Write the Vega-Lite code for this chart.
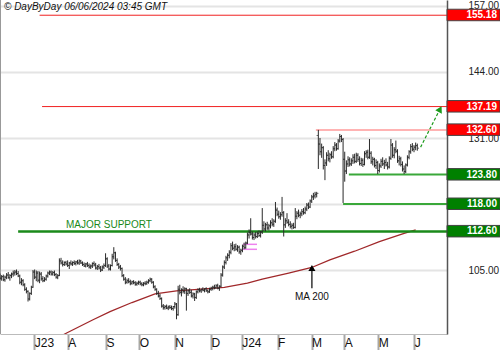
{
"$schema": "https://vega.github.io/schema/vega-lite/v6.json",
"width": 447, "height": 334,
"autosize": {"type": "none"},
"padding": {"left": 0, "top": 0, "right": 53, "bottom": 16},
"background": "white",
"config": {"view": {"stroke": null}, "font": "Liberation Sans"},
"datasets": {
"px": [
{"t":0,"o":103.8,"h":104.3,"l":103.1,"c":103.4},{"t":1,"o":103.4,"h":104.0,"l":102.9,"c":103.7},{"t":2,"o":103.7,"h":104.1,"l":102.8,"c":103.1},{"t":3,"o":103.1,"h":103.9,"l":102.7,"c":103.6},{"t":4,"o":103.6,"h":104.4,"l":103.2,"c":104.0},{"t":5,"o":104.0,"h":104.6,"l":103.3,"c":103.5},{"t":6,"o":103.5,"h":104.2,"l":102.9,"c":103.9},{"t":7,"o":103.9,"h":104.5,"l":103.4,"c":104.2},{"t":8,"o":104.2,"h":104.9,"l":103.7,"c":104.4},{"t":9,"o":104.4,"h":105.0,"l":103.9,"c":104.6},
{"t":10,"o":104.6,"h":105.1,"l":104.0,"c":104.3},{"t":11,"o":104.3,"h":104.8,"l":103.6,"c":103.8},{"t":12,"o":103.8,"h":104.1,"l":102.2,"c":102.6},{"t":13,"o":102.6,"h":103.4,"l":102.0,"c":102.9},{"t":14,"o":102.9,"h":103.2,"l":101.8,"c":102.1},{"t":15,"o":102.1,"h":102.4,"l":100.9,"c":101.2},{"t":16,"o":101.2,"h":101.6,"l":100.4,"c":100.8},{"t":17,"o":100.8,"h":101.0,"l":98.8,"c":99.3},{"t":18,"o":99.3,"h":100.6,"l":99.0,"c":100.4},{"t":19,"o":100.4,"h":101.9,"l":100.1,"c":101.6},
{"t":20,"o":101.6,"h":105.0,"l":101.5,"c":104.6},{"t":21,"o":104.6,"h":105.1,"l":103.2,"c":103.6},{"t":22,"o":103.6,"h":104.9,"l":102.8,"c":104.4},{"t":23,"o":104.4,"h":104.8,"l":102.6,"c":103.0},{"t":24,"o":103.0,"h":104.7,"l":102.4,"c":104.2},{"t":25,"o":104.2,"h":104.6,"l":102.9,"c":103.3},{"t":26,"o":103.3,"h":103.8,"l":102.6,"c":102.9},{"t":27,"o":102.9,"h":103.6,"l":102.7,"c":103.2},{"t":28,"o":103.2,"h":104.1,"l":102.9,"c":103.8},{"t":29,"o":103.8,"h":104.7,"l":103.5,"c":104.4},
{"t":30,"o":104.4,"h":104.9,"l":104.0,"c":104.6},{"t":31,"o":104.6,"h":104.9,"l":103.9,"c":104.2},{"t":32,"o":104.2,"h":104.8,"l":103.9,"c":104.5},{"t":33,"o":104.5,"h":104.9,"l":103.8,"c":104.1},{"t":34,"o":104.1,"h":104.4,"l":103.3,"c":103.6},{"t":35,"o":103.6,"h":104.2,"l":103.2,"c":103.9},{"t":36,"o":103.9,"h":107.3,"l":103.8,"c":106.8},{"t":37,"o":106.8,"h":107.4,"l":106.1,"c":106.4},{"t":38,"o":106.4,"h":106.9,"l":105.7,"c":106.1},{"t":39,"o":106.1,"h":106.7,"l":105.8,"c":106.5},
{"t":40,"o":106.5,"h":106.8,"l":105.9,"c":106.2},{"t":41,"o":106.2,"h":106.9,"l":105.6,"c":105.9},{"t":42,"o":105.9,"h":106.6,"l":105.2,"c":106.4},{"t":43,"o":106.4,"h":106.9,"l":105.9,"c":106.2},{"t":44,"o":106.2,"h":106.7,"l":105.8,"c":106.5},{"t":45,"o":106.5,"h":106.9,"l":106.0,"c":106.3},{"t":46,"o":106.3,"h":106.8,"l":105.9,"c":106.6},{"t":47,"o":106.6,"h":107.0,"l":106.1,"c":106.4},{"t":48,"o":106.4,"h":107.1,"l":106.0,"c":106.8},{"t":49,"o":106.8,"h":107.0,"l":106.2,"c":106.4},
{"t":50,"o":106.4,"h":106.7,"l":105.8,"c":106.1},{"t":51,"o":106.1,"h":106.5,"l":105.6,"c":105.8},{"t":52,"o":105.8,"h":106.4,"l":105.5,"c":106.2},{"t":53,"o":106.2,"h":106.6,"l":105.6,"c":105.9},{"t":54,"o":105.9,"h":106.3,"l":105.3,"c":105.6},{"t":55,"o":105.6,"h":106.1,"l":105.2,"c":105.8},{"t":56,"o":105.8,"h":106.5,"l":105.4,"c":106.3},{"t":57,"o":106.3,"h":106.7,"l":105.7,"c":106.0},{"t":58,"o":106.0,"h":106.4,"l":105.1,"c":105.4},{"t":59,"o":105.4,"h":106.0,"l":105.0,"c":105.7},
{"t":60,"o":105.7,"h":106.2,"l":105.1,"c":105.4},{"t":61,"o":105.4,"h":105.8,"l":104.6,"c":105.0},{"t":62,"o":105.0,"h":105.9,"l":104.8,"c":105.6},{"t":63,"o":105.6,"h":106.3,"l":105.2,"c":105.9},{"t":64,"o":105.9,"h":108.3,"l":105.6,"c":107.2},{"t":65,"o":107.2,"h":107.5,"l":105.4,"c":105.8},{"t":66,"o":105.8,"h":106.2,"l":104.9,"c":105.2},{"t":67,"o":105.2,"h":106.1,"l":104.9,"c":105.9},{"t":68,"o":105.9,"h":108.2,"l":105.7,"c":107.6},{"t":69,"o":107.6,"h":109.5,"l":107.1,"c":108.4},
{"t":70,"o":108.4,"h":108.6,"l":106.6,"c":106.9},{"t":71,"o":106.9,"h":107.3,"l":105.8,"c":106.1},{"t":72,"o":106.1,"h":106.4,"l":105.2,"c":105.6},{"t":73,"o":105.6,"h":106.0,"l":104.9,"c":105.3},{"t":74,"o":105.3,"h":105.5,"l":103.6,"c":103.9},{"t":75,"o":103.9,"h":104.2,"l":102.9,"c":103.2},{"t":76,"o":103.2,"h":103.6,"l":102.2,"c":102.6},{"t":77,"o":102.6,"h":103.3,"l":102.3,"c":102.9},{"t":78,"o":102.9,"h":103.4,"l":102.4,"c":102.7},{"t":79,"o":102.7,"h":103.1,"l":102.0,"c":102.4},
{"t":80,"o":102.4,"h":102.9,"l":102.1,"c":102.7},{"t":81,"o":102.7,"h":103.0,"l":102.2,"c":102.5},{"t":82,"o":102.5,"h":102.8,"l":101.9,"c":102.2},{"t":83,"o":102.2,"h":102.7,"l":101.9,"c":102.4},{"t":84,"o":102.4,"h":102.9,"l":102.1,"c":102.6},{"t":85,"o":102.6,"h":102.9,"l":102.0,"c":102.3},{"t":86,"o":102.3,"h":102.6,"l":101.8,"c":102.1},{"t":87,"o":102.1,"h":102.6,"l":101.8,"c":102.4},{"t":88,"o":102.4,"h":102.8,"l":102.0,"c":102.3},{"t":89,"o":102.3,"h":102.9,"l":102.1,"c":102.6},
{"t":90,"o":102.6,"h":103.2,"l":102.3,"c":102.9},{"t":91,"o":102.9,"h":103.5,"l":102.6,"c":103.2},{"t":92,"o":103.2,"h":103.4,"l":102.3,"c":102.6},{"t":93,"o":102.6,"h":102.8,"l":101.4,"c":101.7},{"t":94,"o":101.7,"h":102.0,"l":100.9,"c":101.2},{"t":95,"o":101.2,"h":101.4,"l":100.1,"c":100.4},{"t":96,"o":100.4,"h":100.9,"l":99.6,"c":99.9},{"t":97,"o":99.9,"h":100.3,"l":99.1,"c":99.4},{"t":98,"o":99.4,"h":99.6,"l":97.6,"c":97.9},{"t":99,"o":97.9,"h":98.3,"l":97.2,"c":97.6},
{"t":100,"o":97.6,"h":98.1,"l":97.2,"c":97.8},{"t":101,"o":97.8,"h":98.2,"l":97.3,"c":97.5},{"t":102,"o":97.5,"h":98.0,"l":97.1,"c":97.7},{"t":103,"o":97.7,"h":98.1,"l":97.3,"c":97.6},{"t":104,"o":97.6,"h":98.0,"l":97.1,"c":97.4},{"t":105,"o":97.4,"h":97.9,"l":97.0,"c":97.8},{"t":106,"o":97.8,"h":98.7,"l":97.4,"c":98.3},{"t":107,"o":98.3,"h":98.5,"l":95.3,"c":96.2},{"t":108,"o":96.2,"h":101.9,"l":96.0,"c":101.2},{"t":109,"o":101.2,"h":102.1,"l":100.2,"c":100.6},
{"t":110,"o":100.6,"h":101.4,"l":99.8,"c":101.1},{"t":111,"o":101.1,"h":101.8,"l":100.4,"c":100.8},{"t":112,"o":100.8,"h":101.6,"l":100.3,"c":101.3},{"t":113,"o":101.3,"h":101.5,"l":97.0,"c":100.4},{"t":114,"o":100.4,"h":101.2,"l":99.9,"c":100.9},{"t":115,"o":100.9,"h":101.4,"l":100.3,"c":100.6},{"t":116,"o":100.6,"h":101.1,"l":99.6,"c":99.9},{"t":117,"o":99.9,"h":100.6,"l":99.4,"c":100.3},{"t":118,"o":100.3,"h":100.5,"l":98.9,"c":99.6},{"t":119,"o":99.6,"h":101.0,"l":99.3,"c":100.7},
{"t":120,"o":100.7,"h":101.4,"l":100.4,"c":101.1},{"t":121,"o":101.1,"h":101.5,"l":100.6,"c":100.9},{"t":122,"o":100.9,"h":101.3,"l":100.5,"c":101.2},{"t":123,"o":101.2,"h":101.6,"l":100.8,"c":101.0},{"t":124,"o":101.0,"h":101.4,"l":100.6,"c":101.3},{"t":125,"o":101.3,"h":101.6,"l":100.7,"c":100.9},{"t":126,"o":100.9,"h":101.2,"l":100.4,"c":100.7},{"t":127,"o":100.7,"h":101.5,"l":100.5,"c":101.2},{"t":128,"o":101.2,"h":101.7,"l":100.9,"c":101.4},{"t":129,"o":101.4,"h":101.9,"l":101.0,"c":101.6},
{"t":130,"o":101.6,"h":102.1,"l":101.2,"c":101.5},{"t":131,"o":101.5,"h":102.2,"l":101.3,"c":101.9},{"t":132,"o":101.9,"h":102.3,"l":101.2,"c":101.4},{"t":133,"o":101.4,"h":102.0,"l":100.9,"c":101.8},{"t":134,"o":101.8,"h":104.4,"l":101.6,"c":104.0},{"t":135,"o":104.0,"h":105.9,"l":103.7,"c":105.6},{"t":136,"o":105.6,"h":106.9,"l":105.2,"c":106.5},{"t":137,"o":106.5,"h":107.8,"l":106.1,"c":107.4},{"t":138,"o":107.4,"h":108.3,"l":106.8,"c":107.9},{"t":139,"o":107.9,"h":108.9,"l":107.3,"c":108.5},
{"t":140,"o":108.5,"h":110.3,"l":108.1,"c":109.8},{"t":141,"o":109.8,"h":110.6,"l":108.9,"c":109.3},{"t":142,"o":109.3,"h":110.1,"l":108.7,"c":109.6},{"t":143,"o":109.6,"h":110.2,"l":108.8,"c":109.1},{"t":144,"o":109.1,"h":109.9,"l":108.6,"c":109.5},{"t":145,"o":109.5,"h":109.8,"l":108.2,"c":108.6},{"t":146,"o":108.6,"h":109.2,"l":108.0,"c":108.9},{"t":147,"o":108.9,"h":110.0,"l":108.5,"c":109.7},{"t":148,"o":109.7,"h":110.4,"l":109.1,"c":109.4},{"t":149,"o":109.4,"h":110.6,"l":109.2,"c":110.3},
{"t":150,"o":110.3,"h":112.4,"l":110.1,"c":111.9},{"t":151,"o":111.9,"h":113.0,"l":111.2,"c":112.4},{"t":152,"o":112.4,"h":115.2,"l":111.8,"c":112.1},{"t":153,"o":112.1,"h":112.6,"l":111.0,"c":111.4},{"t":154,"o":111.4,"h":112.3,"l":110.9,"c":111.9},{"t":155,"o":111.9,"h":112.5,"l":111.2,"c":111.6},{"t":156,"o":111.6,"h":112.6,"l":111.3,"c":112.2},{"t":157,"o":112.2,"h":112.8,"l":111.5,"c":111.8},{"t":158,"o":111.8,"h":112.7,"l":111.4,"c":112.5},{"t":159,"o":112.5,"h":117.2,"l":112.1,"c":113.8},
{"t":160,"o":113.8,"h":114.6,"l":112.7,"c":113.1},{"t":161,"o":113.1,"h":114.3,"l":112.6,"c":113.9},{"t":162,"o":113.9,"h":114.5,"l":112.9,"c":113.3},{"t":163,"o":113.3,"h":114.1,"l":112.8,"c":113.7},{"t":164,"o":113.7,"h":114.8,"l":113.2,"c":114.3},{"t":165,"o":114.3,"h":115.2,"l":113.6,"c":114.0},{"t":166,"o":114.0,"h":115.0,"l":113.5,"c":114.6},{"t":167,"o":114.6,"h":118.4,"l":114.3,"c":116.8},{"t":168,"o":116.8,"h":117.3,"l":115.6,"c":116.0},{"t":169,"o":116.0,"h":116.7,"l":115.1,"c":115.5},
{"t":170,"o":115.5,"h":116.4,"l":114.9,"c":115.9},{"t":171,"o":115.9,"h":119.4,"l":115.5,"c":116.3},{"t":172,"o":116.3,"h":116.6,"l":111.6,"c":113.9},{"t":173,"o":113.9,"h":115.2,"l":113.3,"c":114.7},{"t":174,"o":114.7,"h":116.2,"l":114.1,"c":114.4},{"t":175,"o":114.4,"h":115.0,"l":113.6,"c":114.0},{"t":176,"o":114.0,"h":114.6,"l":113.2,"c":113.6},{"t":177,"o":113.6,"h":114.2,"l":113.0,"c":113.8},{"t":178,"o":113.8,"h":114.3,"l":113.1,"c":113.4},{"t":179,"o":113.4,"h":117.2,"l":113.2,"c":115.6},
{"t":180,"o":115.6,"h":116.6,"l":115.0,"c":116.2},{"t":181,"o":116.2,"h":116.9,"l":115.4,"c":115.8},{"t":182,"o":115.8,"h":116.5,"l":115.2,"c":116.1},{"t":183,"o":116.1,"h":117.0,"l":115.6,"c":116.5},{"t":184,"o":116.5,"h":117.2,"l":115.9,"c":116.3},{"t":185,"o":116.3,"h":117.5,"l":116.0,"c":117.0},{"t":186,"o":117.0,"h":118.2,"l":116.6,"c":117.8},{"t":187,"o":117.8,"h":118.3,"l":117.0,"c":117.4},{"t":188,"o":117.4,"h":118.9,"l":117.2,"c":118.6},{"t":189,"o":118.6,"h":119.8,"l":118.2,"c":119.4},
{"t":190,"o":119.4,"h":120.2,"l":118.8,"c":119.6},{"t":191,"o":119.6,"h":120.4,"l":119.1,"c":119.9},{"t":192,"o":119.9,"h":120.4,"l":119.3,"c":120.1},{"t":193,"o":131.5,"h":132.6,"l":124.9,"c":129.8},{"t":194,"o":129.8,"h":131.0,"l":127.6,"c":128.3},{"t":195,"o":128.3,"h":129.9,"l":127.1,"c":129.1},{"t":196,"o":129.1,"h":129.4,"l":124.8,"c":125.6},{"t":197,"o":125.6,"h":126.8,"l":122.7,"c":126.1},{"t":198,"o":126.1,"h":128.2,"l":125.5,"c":127.6},{"t":199,"o":127.6,"h":128.6,"l":126.4,"c":126.9},
{"t":200,"o":126.9,"h":128.1,"l":126.2,"c":127.7},{"t":201,"o":127.7,"h":128.4,"l":126.9,"c":127.3},{"t":202,"o":127.3,"h":129.4,"l":127.0,"c":128.9},{"t":203,"o":128.9,"h":130.2,"l":128.4,"c":129.6},{"t":204,"o":129.6,"h":130.0,"l":128.5,"c":128.9},{"t":205,"o":128.9,"h":130.8,"l":128.7,"c":130.4},{"t":206,"o":130.4,"h":131.8,"l":130.1,"c":131.3},{"t":207,"o":131.3,"h":131.6,"l":130.2,"c":130.7},{"t":208,"o":130.7,"h":131.0,"l":118.2,"c":126.8},{"t":209,"o":126.8,"h":128.3,"l":122.4,"c":124.5},
{"t":210,"o":124.5,"h":126.6,"l":123.9,"c":125.9},{"t":211,"o":125.9,"h":127.4,"l":125.3,"c":126.7},{"t":212,"o":126.7,"h":127.2,"l":125.4,"c":125.9},{"t":213,"o":125.9,"h":127.0,"l":125.5,"c":126.5},{"t":214,"o":126.5,"h":127.8,"l":125.9,"c":127.2},{"t":215,"o":127.2,"h":127.9,"l":126.0,"c":126.4},{"t":216,"o":126.4,"h":128.1,"l":126.1,"c":127.6},{"t":217,"o":127.6,"h":128.0,"l":126.3,"c":126.8},{"t":218,"o":126.8,"h":127.4,"l":125.6,"c":126.0},{"t":219,"o":126.0,"h":127.1,"l":125.5,"c":126.6},
{"t":220,"o":126.6,"h":127.0,"l":125.3,"c":125.8},{"t":221,"o":125.8,"h":128.4,"l":125.6,"c":127.9},{"t":222,"o":127.9,"h":128.6,"l":127.1,"c":128.2},{"t":223,"o":128.2,"h":128.7,"l":126.8,"c":127.2},{"t":224,"o":127.2,"h":130.8,"l":126.9,"c":128.0},{"t":225,"o":128.0,"h":128.4,"l":125.9,"c":126.3},{"t":226,"o":126.3,"h":127.3,"l":125.6,"c":126.8},{"t":227,"o":126.8,"h":127.1,"l":125.2,"c":125.6},{"t":228,"o":125.6,"h":126.8,"l":124.9,"c":126.2},{"t":229,"o":126.2,"h":126.5,"l":123.9,"c":124.6},
{"t":230,"o":124.6,"h":126.0,"l":124.2,"c":125.5},{"t":231,"o":125.5,"h":126.9,"l":125.1,"c":126.4},{"t":232,"o":126.4,"h":127.2,"l":125.5,"c":125.9},{"t":233,"o":125.9,"h":126.7,"l":124.9,"c":126.2},{"t":234,"o":126.2,"h":127.0,"l":125.4,"c":125.7},{"t":235,"o":125.7,"h":126.3,"l":124.8,"c":125.3},{"t":236,"o":125.3,"h":127.4,"l":125.0,"c":127.0},{"t":237,"o":127.0,"h":130.8,"l":126.7,"c":129.6},{"t":238,"o":129.6,"h":130.0,"l":127.1,"c":127.6},{"t":239,"o":127.6,"h":129.2,"l":127.0,"c":128.7},
{"t":240,"o":128.7,"h":130.5,"l":128.0,"c":128.4},{"t":241,"o":128.4,"h":128.8,"l":126.1,"c":126.5},{"t":242,"o":126.5,"h":127.5,"l":125.6,"c":126.9},{"t":243,"o":126.9,"h":127.3,"l":125.4,"c":125.8},{"t":244,"o":125.8,"h":126.4,"l":124.4,"c":124.9},{"t":245,"o":124.9,"h":125.6,"l":123.9,"c":124.4},{"t":246,"o":124.4,"h":126.0,"l":124.1,"c":125.7},{"t":247,"o":125.7,"h":127.6,"l":125.4,"c":127.2},{"t":248,"o":127.2,"h":128.6,"l":126.8,"c":128.3},{"t":249,"o":128.3,"h":129.8,"l":127.9,"c":129.3},
{"t":250,"o":129.3,"h":130.0,"l":128.4,"c":128.8},{"t":251,"o":128.8,"h":129.6,"l":128.2,"c":129.2},{"t":252,"o":129.2,"h":130.1,"l":128.6,"c":129.5},{"t":253,"o":129.5,"h":129.9,"l":128.5,"c":129.0}
],
"ma": [
{"t":36,"ma":91.8},{"t":40.4,"ma":92.6},{"t":56.4,"ma":95.2},{"t":66.7,"ma":96.8},{"t":80,"ma":98.6},{"t":94,"ma":100.3},{"t":107,"ma":100.9},{"t":120,"ma":101.2},{"t":136,"ma":101.6},{"t":150,"ma":102.4},{"t":159,"ma":103.2},{"t":175,"ma":104.4},{"t":189,"ma":105.5},{"t":200,"ma":107.0},{"t":215,"ma":108.7},{"t":230,"ma":110.6},{"t":245,"ma":112.2},{"t":252,"ma":112.9}
],
"lv": [
{"v":155.18,"t0":24,"k":"r","s":"res"},{"v":137.19,"t0":25.5,"k":"r","s":"res"},{"v":132.6,"t0":191.5,"k":"p","s":"res"},{"v":123.8,"t0":211.5,"k":"g","s":"sup"},{"v":118.0,"t0":208,"k":"g","s":"sup"},{"v":112.6,"t0":11,"k":"m","s":"sup"}
],
"gap": [{"t0":147.3,"t1":155.8,"v":110.06},{"t0":147.3,"t1":155.8,"v":109.08}],
"ga": [{"t":255,"v":129.2},{"t":266.6,"v":136.6}]
},
"layer": [
{"data": {"values": [{}]}, "mark": {"type": "rule", "color": "#999", "strokeWidth": 2}, "encoding": {"x": {"datum": 0, "type": "quantitative"}}},
{"data": {"name": "ma"}, "mark": {"type": "line", "color": "#a0282a", "strokeWidth": 1.3, "clip": true},
 "encoding": {"x": {"field": "t", "type": "quantitative", "title": null}, "y": {"field": "ma", "type": "quantitative", "title": null}}},
{"data": {"name": "lv"}, "mark": {"type": "rule"},
 "encoding": {"x": {"field": "t0", "type": "quantitative", "title": null}, "x2": {"datum": 271}, "y": {"field": "v", "type": "quantitative", "title": null},
  "color": {"field": "k", "type": "nominal", "scale": {"domain": ["r","p","g","m"], "range": ["#f02020","#ff9a9a","#3aa83a","#1a8a1a"]}, "legend": null},
  "strokeWidth": {"field": "k", "type": "nominal", "scale": {"domain": ["r","p","g","m"], "range": [1,2.5,1,2.5]}, "legend": null}}},
{"data": {"name": "gap"}, "mark": {"type": "rule", "color": "#ee82ee", "strokeWidth": 1.5},
 "encoding": {"x": {"field": "t0", "type": "quantitative", "title": null}, "x2": {"field": "t1"}, "y": {"field": "v", "type": "quantitative", "title": null}}},
{"data": {"name": "px"}, "mark": {"type": "rule", "color": "#2a2a2a", "strokeWidth": 1},
 "encoding": {
  "x": {"field": "t", "type": "quantitative", "title": null, "scale": {"domain": [0, 271], "nice": false, "zero": false},
   "axis": {"orient": "bottom", "values": [20.8,41,64.2,84.4,106,127.9,146.5,168.3,188.9,208.7,229.3,251.1],
    "labelExpr": "datum.value<30?'J23':datum.value<50?'A':datum.value<70?'S':datum.value<90?'O':datum.value<110?'N':datum.value<135?'D':datum.value<150?'J24':datum.value<175?'F':datum.value<195?'M':datum.value<215?'A':datum.value<235?'M':'J'",
    "title": null, "grid": false, "ticks": true, "tickSize": 16, "tickColor": "#a8a8a8", "tickWidth": 2,
    "domainColor": "#bbb", "domainWidth": 1, "labelAlign": "left", "labelBaseline": "alphabetic", "labelPadding": -3.5, "labelDx": 2,
    "labelFontSize": 12, "labelColor": "#111", "labelFont": "Liberation Sans", "labelFlush": false, "labelOverlap": false}},
  "y": {"field": "l", "type": "quantitative", "title": null, "scale": {"domain": [92.4, 158.18], "nice": false, "zero": false},
   "axis": {"orient": "right", "values": [105,118,131,144,157], "format": ".2f", "title": null, "ticks": false, "labelPadding": 21,
    "labelFontSize": 10, "labelColor": "#222", "labelFont": "Liberation Sans", "domainColor": "#555", "domainWidth": 1.5,
    "grid": true, "gridColor": "#e4e4e4", "gridWidth": 2, "labelFlush": false, "labelOverlap": false}},
  "y2": {"field": "h"}}},
{"data": {"name": "px"}, "mark": {"type": "tick", "orient": "horizontal", "size": 1.5, "thickness": 1, "xOffset": -1, "color": "#2a2a2a"},
 "encoding": {"x": {"field": "t", "type": "quantitative", "title": null}, "y": {"field": "o", "type": "quantitative", "title": null}}},
{"data": {"name": "px"}, "mark": {"type": "tick", "orient": "horizontal", "size": 1.5, "thickness": 1, "xOffset": 1, "color": "#2a2a2a"},
 "encoding": {"x": {"field": "t", "type": "quantitative", "title": null}, "y": {"field": "c", "type": "quantitative", "title": null}}},
{"data": {"name": "ga"}, "mark": {"type": "line", "color": "#1a9a1a", "strokeWidth": 1.2, "strokeDash": [3, 2]},
 "encoding": {"x": {"field": "t", "type": "quantitative", "title": null}, "y": {"field": "v", "type": "quantitative", "title": null}}},
{"data": {"values": [{}]}, "mark": {"type": "point", "shape": "triangle-up", "filled": true, "color": "#1a9a1a", "size": 55, "angle": 28, "opacity": 1},
 "encoding": {"x": {"datum": 266.8, "type": "quantitative"}, "y": {"datum": 136.7, "type": "quantitative"}}},
{"data": {"values": [{}]}, "mark": {"type": "rule", "color": "#000", "strokeWidth": 1.2},
 "encoding": {"x": {"datum": 189.1, "type": "quantitative"}, "y": {"datum": 101.4, "type": "quantitative"}, "y2": {"datum": 105.2}}},
{"data": {"values": [{}]}, "mark": {"type": "point", "shape": "triangle-up", "filled": true, "color": "#000", "size": 50, "opacity": 1},
 "encoding": {"x": {"datum": 189.1, "type": "quantitative"}, "y": {"datum": 105.4, "type": "quantitative"}}},
{"data": {"values": [{}]}, "mark": {"type": "text", "text": "MA 200", "fontSize": 10, "color": "#111", "align": "center", "baseline": "middle", "font": "Liberation Sans"},
 "encoding": {"x": {"datum": 189.1, "type": "quantitative"}, "y": {"datum": 99.7, "type": "quantitative"}}},
{"data": {"values": [{}]}, "mark": {"type": "text", "text": "MAJOR SUPPORT", "fontSize": 10, "color": "#1a8a1a", "align": "left", "baseline": "alphabetic", "font": "Liberation Sans"},
 "encoding": {"x": {"datum": 40, "type": "quantitative"}, "y": {"datum": 113.2, "type": "quantitative"}}},
{"data": {"values": [{}]}, "mark": {"type": "text", "text": "© DayByDay 06/06/2024 03:45 GMT", "fontSize": 10, "fontStyle": "italic", "color": "#111", "align": "left", "baseline": "alphabetic", "xOffset": 4, "font": "Liberation Sans"},
 "encoding": {"x": {"datum": 0, "type": "quantitative"}, "y": {"datum": 156.2, "type": "quantitative"}}},
{"data": {"name": "lv"}, "mark": {"type": "rect", "x2Offset": 53, "yOffset": -6, "y2Offset": 5.5, "stroke": "#444", "strokeWidth": 1},
 "encoding": {"x": {"datum": 271, "type": "quantitative"}, "x2": {"datum": 271}, "y": {"field": "v", "type": "quantitative", "title": null}, "y2": {"field": "v"},
  "fill": {"field": "s", "type": "nominal", "scale": {"domain": ["res","sup"], "range": ["#ff0000","#008000"]}, "legend": null}}},
{"data": {"name": "lv"}, "mark": {"type": "text", "align": "right", "baseline": "middle", "xOffset": 50, "dy": 0, "fontSize": 10, "fontWeight": "bold", "color": "white", "font": "Liberation Sans"},
 "encoding": {"x": {"datum": 271, "type": "quantitative"}, "y": {"field": "v", "type": "quantitative", "title": null}, "text": {"field": "v", "type": "quantitative", "format": ".2f"}}}
]
}
